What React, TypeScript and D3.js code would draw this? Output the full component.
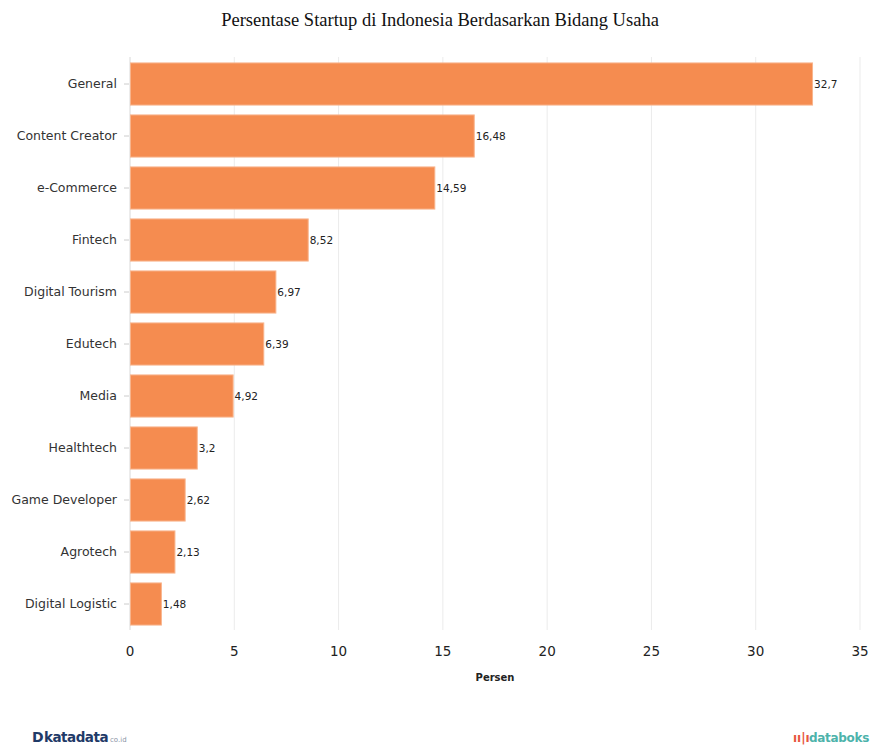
import React from "react";
import * as d3 from "d3";

const categories = ["General","Content Creator","e-Commerce","Fintech","Digital Tourism","Edutech","Media","Healthtech","Game Developer","Agrotech","Digital Logistic"];
const values = [32.7,16.48,14.59,8.52,6.97,6.39,4.92,3.2,2.62,2.13,1.48];
const xTicks = [0,5,10,15,20,25,30,35];
const title = "Persentase Startup di Indonesia Berdasarkan Bidang Usaha";
const xTitle = "Persen";

export default function App() {
  const W = 871, H = 747;
  const left = 130, right = 860, top = 58, bottom = 630;
  const x = d3.scaleLinear().domain([0, 35]).range([left, right]);
  const y = d3.scaleBand().domain(categories).range([top, bottom]).paddingInner(0.19).paddingOuter(0.095);
  const fmt = (v: number) => String(v).replace(".", ",");
  const font = "Verdana, 'DejaVu Sans', sans-serif";
  return (
    <svg width={W} height={H} style={{ position: "absolute", left: 0, top: 0, background: "#fff" }}>
      <text x={440} y={26} textAnchor="middle" fontFamily="'Liberation Serif', 'Times New Roman', serif" fontSize={18.5} fill="#111">{title}</text>
      {xTicks.map(t => (
        <line key={"g"+t} x1={x(t)} x2={x(t)} y1={top - 1} y2={bottom} stroke={t === 0 ? "#d8d8d8" : "#ebebeb"} strokeWidth={1} />
      ))}
      {categories.map((c, i) => (
        <g key={c}>
          <line x1={left - 6} x2={left - 1} y1={y(c)! + y.bandwidth() / 2} y2={y(c)! + y.bandwidth() / 2} stroke="#ccc" />
          <rect x={x(0) + 0.5} y={y(c)!} width={x(values[i]) - x(0)} height={y.bandwidth()} fill="#F58C50" stroke="#F8B48C" strokeWidth={1} />
          <text x={left - 13} y={y(c)! + y.bandwidth() / 2} dy="0.35em" textAnchor="end" fontFamily={font} fontSize={12.5} fill="#333">{c}</text>
          <text x={x(values[i]) + 2} y={y(c)! + y.bandwidth() / 2} dy="0.35em" fontFamily={font} fontSize={10.5} fill="#222">{fmt(values[i])}</text>
        </g>
      ))}
      {xTicks.map(t => (
        <text key={"t"+t} x={x(t)} y={656} textAnchor="middle" fontFamily={font} fontSize={13.5} fill="#222">{t}</text>
      ))}
      <text x={495} y={681} textAnchor="middle" fontFamily={font} fontSize={10} fontWeight="bold" fill="#222">{xTitle}</text>
      <g>
        <text x={32} y={742} fontFamily="'DejaVu Sans', sans-serif" fontSize={14} fontWeight="bold" fill="#1f3a68">D</text>
        <text x={44} y={742} fontFamily="'DejaVu Sans', sans-serif" fontSize={13.5} fontWeight="bold" fill="#1f3a68" letterSpacing={-0.5}>katadata</text>
        <text x={110} y={742} fontFamily="'DejaVu Sans', sans-serif" fontSize={7} fill="#8a94a6">co.id</text>
      </g>
      <g>
        <text x={793} y={742} fontFamily="'DejaVu Sans', sans-serif" fontSize={12} fontWeight="bold" fill="#e8573f">ıı|ı</text>
        <text x={809} y={742} fontFamily="'DejaVu Sans', sans-serif" fontSize={12} fontWeight="bold" fill="#4db3ab" letterSpacing={-0.3}>databoks</text>
      </g>
    </svg>
  );
}
